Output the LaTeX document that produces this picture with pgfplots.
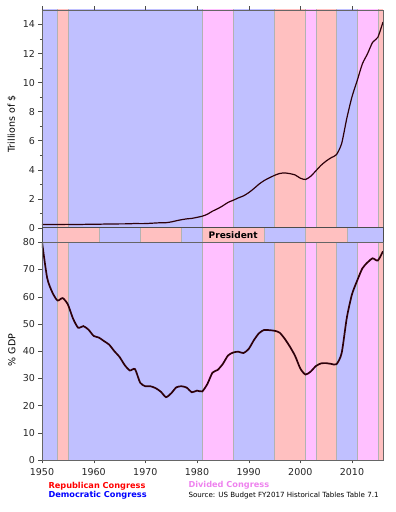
\documentclass[border=0pt]{standalone}
\usepackage{pgfplots}
\pgfplotsset{compat=1.18}
\usepackage{pgfplotstable}
\usepackage{fontspec}
\setmainfont{DejaVu Sans}
\definecolor{dem}{RGB}{192,192,255}
\definecolor{rep}{RGB}{255,192,192}
\definecolor{div}{RGB}{255,192,255}
\definecolor{debt}{RGB}{45,0,10}
\definecolor{violetC}{RGB}{238,130,238}

\pgfplotstableread{
year debt pct
1950 0.2190 80.2
1951 0.2143 66.9
1952 0.2148 61.6
1953 0.2184 58.6
1954 0.2245 59.5
1955 0.2266 57.2
1956 0.2222 52.0
1957 0.2193 48.6
1958 0.2263 49.2
1959 0.2347 47.9
1960 0.2368 45.6
1961 0.2384 45.0
1962 0.2480 43.7
1963 0.2540 42.4
1964 0.2568 40.0
1965 0.2608 37.9
1966 0.2637 34.9
1967 0.2666 32.9
1968 0.2895 33.4
1969 0.2781 28.4
1970 0.2832 27.1
1971 0.3030 27.1
1972 0.3224 26.4
1973 0.3409 25.1
1974 0.3437 23.1
1975 0.3947 24.5
1976 0.4774 26.7
1977 0.5491 27.1
1978 0.6071 26.6
1979 0.6403 24.9
1980 0.7119 25.5
1981 0.7894 25.2
1982 0.9246 27.9
1983 1.1373 32.1
1984 1.3070 33.1
1985 1.5073 35.3
1986 1.7406 38.4
1987 1.8898 39.5
1988 2.0516 39.8
1989 2.1907 39.3
1990 2.4116 40.8
1991 2.6890 44.0
1992 2.9997 46.6
1993 3.2484 47.8
1994 3.4331 47.7
1995 3.6044 47.5
1996 3.7341 46.8
1997 3.7723 44.5
1998 3.7211 41.6
1999 3.6324 38.2
2000 3.4098 33.6
2001 3.3196 31.4
2002 3.5404 32.5
2003 3.9134 34.5
2004 4.2955 35.5
2005 4.5922 35.6
2006 4.8290 35.3
2007 5.0351 35.2
2008 5.8031 39.3
2009 7.5447 52.3
2010 9.0189 60.9
2011 10.1282 65.9
2012 11.2811 70.4
2013 11.9827 72.6
2014 12.7799 74.1
2015 13.1167 73.3
2016 14.1684 76.7
}\debtdata

\newcommand{\band}[3]{\addplot[fill=#3, draw=black!30, line width=0.4pt] coordinates {(#1,-100) (#2,-100) (#2,200) (#1,200)} -- cycle;}
\newcommand{\congress}{%
\band{1950}{1953}{dem}\band{1953}{1955}{rep}\band{1955}{1981}{dem}%
\band{1981}{1987}{div}\band{1987}{1995}{dem}\band{1995}{2001}{rep}%
\band{2001}{2003}{div}\band{2003}{2007}{rep}\band{2007}{2011}{dem}%
\band{2011}{2015}{div}\band{2015}{2016}{rep}}

\pgfplotsset{
  common/.style={
    scale only axis, width=341pt, xmin=1950, xmax=2016,
    axis on top,
    tick label style={font=\fontsize{9.5}{11}\selectfont, text=black!85},
    /pgf/number format/assume math mode=true,
    /pgf/number format/1000 sep={},
    tick align=outside,
    axis line style={black!60},
    major tick length=3.5pt, minor tick length=2pt,
    tick style={black!70},
    xtick={1950,1960,...,2010},
  }
}

\begin{document}
\begin{tikzpicture}
\useasboundingbox (0pt,0pt) rectangle (396pt,512pt);
% top panel
\begin{axis}[common, at={(42pt,284.3pt)}, anchor=south west, height=217.7pt,
  ymin=0, ymax=15, ytick={0,2,...,14}, minor ytick={1,3,...,13},
  xticklabels={}, xtick pos=right, ytick pos=left]
\congress
\addplot[debt, line width=1.2pt, smooth, tension=0.4] table[x=year,y=debt]{\debtdata};
\end{axis}
% president strip
\begin{axis}[common, at={(42pt,269.7pt)}, anchor=south west, height=14.6pt,
  ymin=0, ymax=1, ticks=none, axis line style={black!70, line width=0.8pt}]
\band{1950}{1953}{dem}\band{1953}{1961}{rep}\band{1961}{1969}{dem}%
\band{1969}{1977}{rep}\band{1977}{1981}{dem}\band{1981}{1993}{rep}%
\band{1993}{2001}{dem}\band{2001}{2009}{rep}\band{2009}{2016}{dem}
\node[font=\bfseries\fontsize{9}{10}\selectfont] at (axis cs:1987,0.5) {President};
\end{axis}
% bottom panel
\begin{axis}[common, at={(42pt,52pt)}, anchor=south west, height=217.7pt,
  ymin=0, ymax=80, ytick={0,10,...,80}, xtick pos=left, ytick pos=left,
  xticklabel style={yshift=-1.5pt}]
\congress
\addplot[debt, line width=1.7pt, smooth, tension=0.4] table[x=year,y=pct]{\debtdata};
\end{axis}
\node[rotate=90, font=\fontsize{9.5}{11}\selectfont] at (12pt,388pt) {Trillions of \$};
\node[rotate=90, font=\fontsize{9.5}{11}\selectfont] at (12pt,162pt) {\% GDP};
\node[anchor=west, text=red, font=\bfseries\fontsize{8.2}{10}\selectfont] at (45pt,26pt) {Republican Congress};
\node[anchor=west, text=blue, font=\bfseries\fontsize{8.2}{10}\selectfont] at (45pt,16.5pt) {Democratic Congress};
\node[anchor=west, text=violetC, font=\bfseries\fontsize{8.2}{10}\selectfont] at (185pt,27pt) {Divided Congress};
\node[anchor=west, font=\fontsize{7.1}{8}\selectfont] at (185pt,16pt) {Source: US Budget FY2017 Historical Tables Table 7.1};
\end{tikzpicture}
\end{document}
